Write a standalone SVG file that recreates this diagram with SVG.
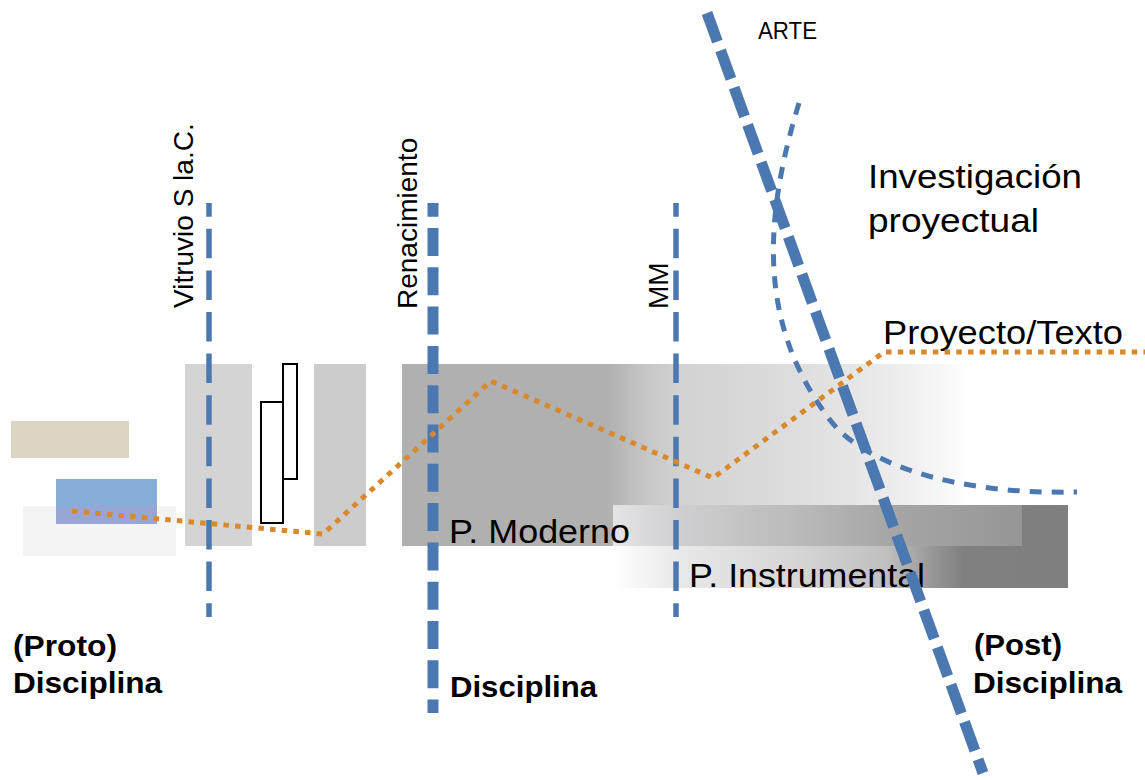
<svg xmlns="http://www.w3.org/2000/svg" width="1145" height="780" viewBox="0 0 1145 780">
<defs>
<style>
text{font-family:"Liberation Sans",Arial,Helvetica,sans-serif;fill:#000}
.lbl{font-size:34px}
.vl{font-size:28px}
.bd{font-size:30px;font-weight:bold}
.era{fill:none;stroke:#4b78b0;stroke-width:5.5;stroke-dasharray:29.5 12.1;stroke-dashoffset:15.8}
.ren{fill:none;stroke:#4b78b0;stroke-width:11;stroke-dasharray:28 11.3;stroke-dashoffset:14.3}
.arte{fill:none;stroke:#4b78b0;stroke-width:11;stroke-dasharray:30.5 9.2}
.inv{fill:none;stroke:#4b78b0;stroke-width:5;stroke-dasharray:12 10}
.proj{fill:none;stroke:#d9892b;stroke-width:5;stroke-dasharray:5.5 6.2}
.box{fill:#fff;stroke:#000;stroke-width:2}
</style>
<linearGradient id="gMod" gradientUnits="userSpaceOnUse" x1="402" y1="0" x2="970" y2="0">
<stop offset="0" stop-color="#b0b0b0"/>
<stop offset="0.36" stop-color="#b0b0b0"/>
<stop offset="0.437" stop-color="#c8c8c8"/>
<stop offset="0.49" stop-color="#d2d2d2"/>
<stop offset="0.70" stop-color="#dedede"/>
<stop offset="0.80" stop-color="#e6e6e6"/>
<stop offset="0.90" stop-color="#f0f0f2"/>
<stop offset="1" stop-color="#ffffff"/>
</linearGradient>
<linearGradient id="gInsLow" gradientUnits="userSpaceOnUse" x1="613" y1="0" x2="1068" y2="0">
<stop offset="0" stop-color="#ffffff"/>
<stop offset="0.07" stop-color="#f4f4f4"/>
<stop offset="0.15" stop-color="#e8e8e8"/>
<stop offset="0.40" stop-color="#d6d6d6"/>
<stop offset="0.60" stop-color="#c0c0c0"/>
<stop offset="0.72" stop-color="#909090"/>
<stop offset="0.77" stop-color="#808080"/>
<stop offset="1" stop-color="#7f7f7f"/>
</linearGradient>
<linearGradient id="gInsUp" gradientUnits="userSpaceOnUse" x1="613" y1="0" x2="1022" y2="0">
<stop offset="0" stop-color="#e4e4e8"/>
<stop offset="0.15" stop-color="#d0d0d2"/>
<stop offset="0.45" stop-color="#bababa"/>
<stop offset="0.65" stop-color="#a8a8a8"/>
<stop offset="1" stop-color="#969696"/>
</linearGradient>
<linearGradient id="gBlue" x1="0" y1="0" x2="0" y2="1">
<stop offset="0" stop-color="#85aed6"/>
<stop offset="0.6" stop-color="#85aed6"/>
<stop offset="0.6" stop-color="#98a6d6"/>
<stop offset="1" stop-color="#98a6d6"/>
</linearGradient>
</defs>
<rect width="1145" height="780" fill="#ffffff"/>

<g id="proto-beige"><rect x="11" y="421" width="118" height="37" fill="#dbd5c3"/></g>
<g id="proto-light"><rect x="23" y="506" width="153" height="50" fill="#f4f4f4"/></g>
<g id="proto-blue"><rect x="56" y="479" width="101" height="45" fill="url(#gBlue)"/></g>
<g id="vitruvio-block"><rect x="185" y="364" width="67" height="182" fill="#d4d4d4"/></g>
<g id="box-tall"><rect x="283" y="364" width="14" height="115" class="box"/></g>
<g id="box-low"><rect x="261" y="402" width="22" height="121" class="box"/></g>
<g id="block2"><rect x="314" y="364" width="52" height="182" fill="#cccccc"/></g>
<g id="moderno-block"><rect x="402" y="364" width="568" height="182" fill="url(#gMod)"/></g>
<g id="instrumental-block">
<rect x="613" y="505" width="455" height="83" fill="url(#gInsLow)"/>
<rect x="613" y="505" width="409" height="41" fill="url(#gInsUp)"/>
</g>

<g id="labels">
<text class="vl" transform="translate(193,308) rotate(-90)">Vitruvio S la.C.</text>
<text class="vl" transform="translate(417,309) rotate(-90)">Renacimiento</text>
<text class="vl" transform="translate(668,309) rotate(-90)">MM</text>
<text x="758" y="39" font-size="23" textLength="59" lengthAdjust="spacingAndGlyphs">ARTE</text>
<text class="lbl" x="868" y="188" textLength="214" lengthAdjust="spacingAndGlyphs">Investigación</text>
<text class="lbl" x="868" y="232" textLength="171" lengthAdjust="spacingAndGlyphs">proyectual</text>
<text class="lbl" x="883" y="344" textLength="240" lengthAdjust="spacingAndGlyphs">Proyecto/Texto</text>
<text class="lbl" x="449" y="543" textLength="181" lengthAdjust="spacingAndGlyphs">P. Moderno</text>
<text class="lbl" x="689" y="587" textLength="236" lengthAdjust="spacingAndGlyphs">P. Instrumental</text>
<text class="bd" x="13" y="656" textLength="104" lengthAdjust="spacingAndGlyphs">(Proto)</text>
<text class="bd" x="13" y="693" textLength="149" lengthAdjust="spacingAndGlyphs">Disciplina</text>
<text class="bd" x="450" y="697" textLength="147" lengthAdjust="spacingAndGlyphs">Disciplina</text>
<text class="bd" x="974" y="655" textLength="88" lengthAdjust="spacingAndGlyphs">(Post)</text>
<text class="bd" x="973" y="693" textLength="149" lengthAdjust="spacingAndGlyphs">Disciplina</text>
</g>

<g id="connectors">
<line class="era" x1="209" y1="203" x2="209" y2="617"/>
<line class="ren" x1="433" y1="203" x2="433" y2="713"/>
<line class="era" x1="676" y1="203" x2="676" y2="617"/>
<line class="arte" x1="707" y1="13" x2="983" y2="773"/>
<path class="inv" d="M799 103 C760 230 762 330 830 420 C862 462 950 495 1077 492"/>
<polyline class="proj" points="72,511 323,534 491,381 713,478 884,352 1145,352"/>
</g>
</svg>
